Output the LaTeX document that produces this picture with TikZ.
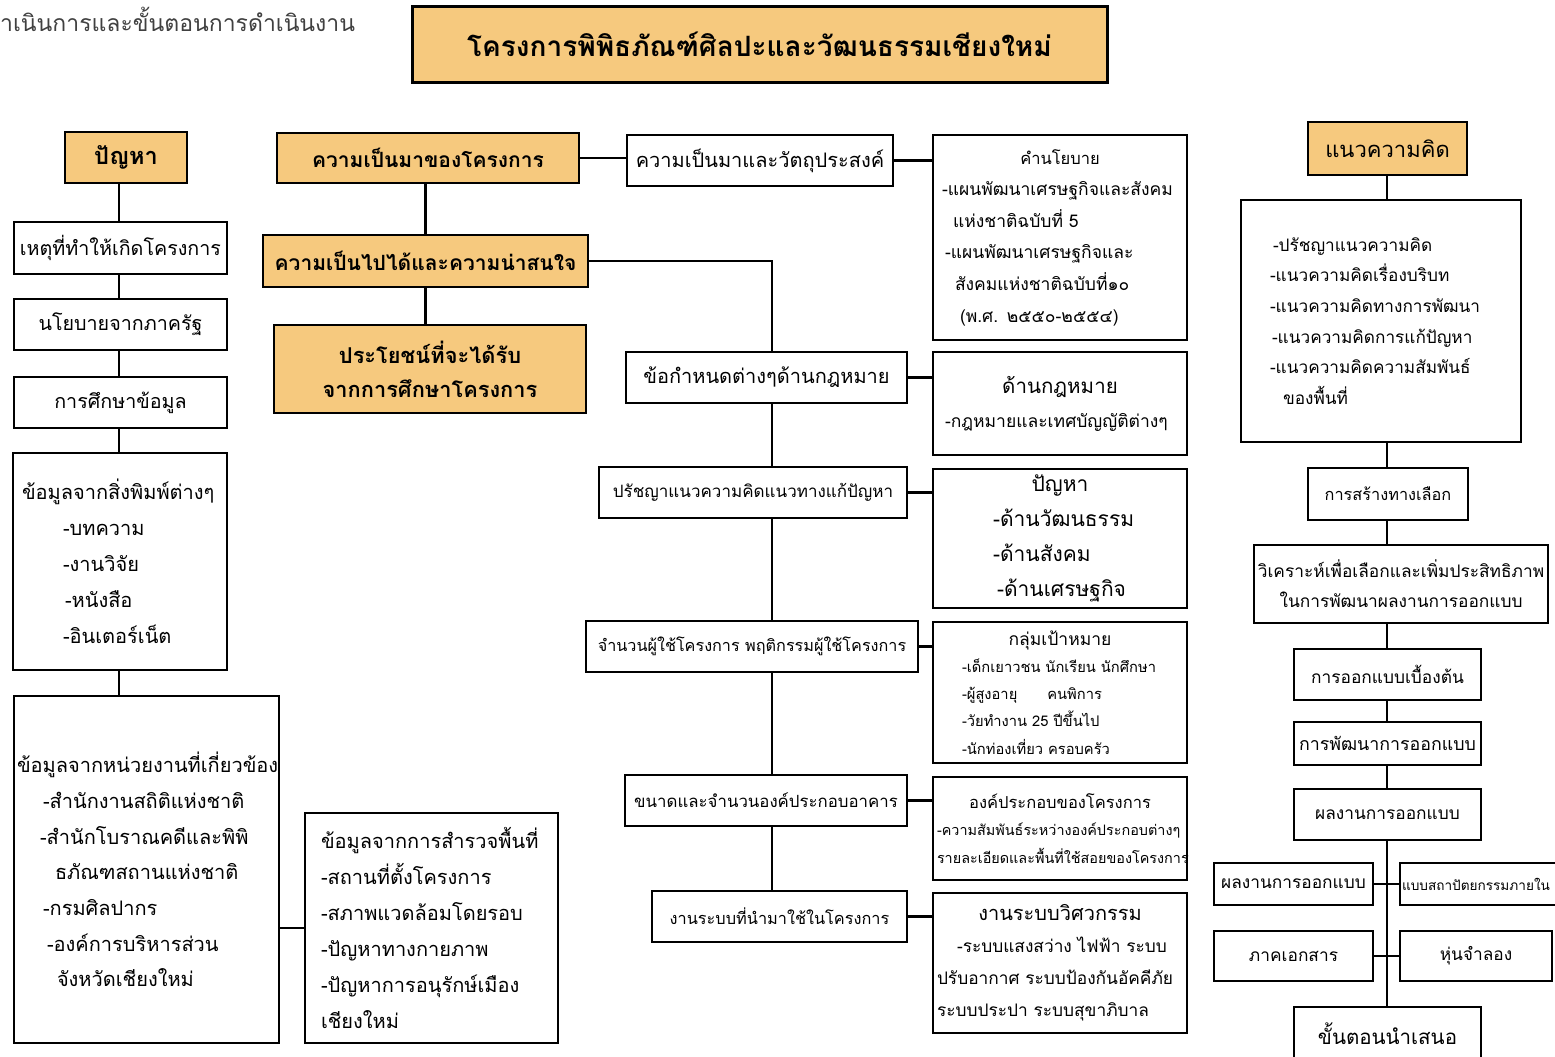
\documentclass[tikz,border=0pt]{standalone}
\usepackage{fontspec}
\setmainfont[Script=Thai]{Loma}
\usepackage{tikz}
\usetikzlibrary{positioning}
\definecolor{boxorange}{RGB}{246,201,126}

\begin{document}
\begin{tikzpicture}[x=1pt, y=-1pt,
    plainbox/.style={draw, line width=1.4pt, fill=white, inner sep=0pt, font=\fontsize{19.7}{24}\selectfont},
    headbox/.style={draw, line width=2.6pt, fill=boxorange, inner sep=0pt, align=center, font=\bfseries\fontsize{21}{34}\selectfont},
    listbox/.style={plainbox, align=left, inner xsep=4pt},
    smallbox/.style={plainbox, font=\fontsize{17.3}{22}\selectfont},
    link/.style={line width=2.4pt}]
        \useasboundingbox (0,0) rectangle (1555,1057);

        % Top - caption and project title
        \node[anchor=west, inner sep=0pt, text=black!75, font=\fontsize{23}{28}\selectfont] (caption) at (0,19) {าเนินการและขั้นตอนการดำเนินงาน};
        \node[headbox, line width=3pt, minimum width=695, minimum height=75, font=\bfseries\fontsize{28}{32}\selectfont] (title) at (759.5,44.5) {โครงการพิพิธภัณฑ์ศิลปะและวัฒนธรรมเชียงใหม่};

        % Left column - problem and data
        \node[headbox, minimum width=122, minimum height=51, font=\bfseries\fontsize{23.5}{26}\selectfont] (prob) at (126,157.5) {ปัญหา};
        \node[plainbox, minimum width=213, minimum height=52] (cause) at (120.5,248) {เหตุที่ทำให้เกิดโครงการ};
        \node[plainbox, minimum width=213, minimum height=51] (policy) at (120.5,324.5) {นโยบายจากภาครัฐ};
        \node[plainbox, minimum width=213, minimum height=51] (study) at (120.5,402.5) {การศึกษาข้อมูล};
        \node[listbox, minimum width=214, minimum height=217, text width=206, font=\fontsize{20}{36}\selectfont] (print) at (120,561.5) {
            \hspace*{5pt}ข้อมูลจากสิ่งพิมพ์ต่างๆ\\
            \hspace*{46pt}-บทความ\\
            \hspace*{46pt}-งานวิจัย\\
            \hspace*{48pt}-หนังสือ\\
            \hspace*{46pt}-อินเตอร์เน็ต};
        \node[listbox, inner xsep=3pt, minimum width=265, minimum height=347, text width=259, font=\fontsize{20}{35.7}\selectfont] (agency) at (146.5,869.5) {
            ข้อมูลจากหน่วยงานที่เกี่ยวข้อง\\
            \hspace*{26pt}-สำนักงานสถิติแห่งชาติ\\
            \hspace*{23pt}-สำนักโบราณคดีและพิพิ\\
            \hspace*{38pt}ธภัณฑสถานแห่งชาติ\\
            \hspace*{26pt}-กรมศิลปากร\\
            \hspace*{30pt}-องค์การบริหารส่วน\\
            \hspace*{40pt}จังหวัดเชียงใหม่};
        \node[listbox, minimum width=253, minimum height=230, text width=245, font=\fontsize{20}{36}\selectfont] (survey) at (431.5,928) {
            \hspace*{12pt}ข้อมูลจากการสำรวจพื้นที่\\
            \hspace*{12pt}-สถานที่ตั้งโครงการ\\
            \hspace*{12pt}-สภาพแวดล้อมโดยรอบ\\
            \hspace*{12pt}-ปัญหาทางกายภาพ\\
            \hspace*{12pt}-ปัญหาการอนุรักษ์เมือง\\
            \hspace*{12pt}เชียงใหม่};

        \coordinate (lspine) at (119,0);
        \draw[link] (lspine |- prob.south) -- (lspine |- cause.north);
        \draw[link] (lspine |- cause.south) -- (lspine |- policy.north);
        \draw[link] (lspine |- policy.south) -- (lspine |- study.north);
        \draw[link] (lspine |- study.south) -- (lspine |- print.north);
        \draw[link] (lspine |- print.south) -- (lspine |- agency.north);
        \draw[link] (survey.west) -- (survey.west -| agency.east);

        % Middle column - background of the project
        \node[headbox, minimum width=302, minimum height=50] (background) at (428,158) {ความเป็นมาของโครงการ};
        \node[headbox, minimum width=325, minimum height=52] (feasible) at (425.5,261) {ความเป็นไปได้และความน่าสนใจ};
        \node[headbox, minimum width=312, minimum height=88, font=\bfseries\fontsize{21.8}{34}\selectfont] (benefit) at (430,369) {ประโยชน์ที่จะได้รับ\\จากการศึกษาโครงการ};
        \draw[link] (feasible.north) -- (feasible.north |- background.south);
        \draw[link] (feasible.south) -- (feasible.south |- benefit.north);

        % Centre column - topics to study
        \node[plainbox, minimum width=266, minimum height=51, font=\fontsize{20}{24}\selectfont] (objective) at (760,160.5) {ความเป็นมาและวัตถุประสงค์};
        \node[plainbox, minimum width=281, minimum height=51, font=\fontsize{20}{24}\selectfont] (law) at (766.5,377.5) {ข้อกำหนดต่างๆด้านกฎหมาย};
        \node[plainbox, minimum width=308, minimum height=51, font=\fontsize{17}{22}\selectfont] (philo) at (753,492.5) {ปรัชญาแนวความคิดแนวทางแก้ปัญหา};
        \node[plainbox, minimum width=332, minimum height=51, font=\fontsize{16.2}{22}\selectfont] (users) at (752,646.5) {จำนวนผู้ใช้โครงการ พฤติกรรมผู้ใช้โครงการ};
        \node[plainbox, minimum width=282, minimum height=51, font=\fontsize{16.8}{22}\selectfont] (size) at (766,800.5) {ขนาดและจำนวนองค์ประกอบอาคาร};
        \node[plainbox, minimum width=255, minimum height=51, font=\fontsize{16.3}{22}\selectfont] (systems) at (779.5,916.5) {งานระบบที่นำมาใช้ในโครงการ};

        \coordinate (trunk) at (772,0);
        \draw[link] (background.east) -- (background.east -| objective.west);
        \draw[link] (feasible.east) -| (trunk |- law.north);
        \draw[link] (trunk |- law.south) -- (trunk |- philo.north);
        \draw[link] (trunk |- philo.south) -- (trunk |- users.north);
        \draw[link] (trunk |- users.south) -- (trunk |- size.north);
        \draw[link] (trunk |- size.south) -- (trunk |- systems.north);

        % Details of each topic
        \node[listbox, minimum width=254, minimum height=205, text width=246, font=\fontsize{17.5}{31.6}\selectfont] (policybox) at (1060,237.5) {
            \hspace*{\fill}{\fontsize{16.5}{31.6}\selectfont คำนโยบาย}\hspace*{\fill}\null\\
            \hspace*{5pt}-แผนพัฒนาเศรษฐกิจและสังคม\\
            \hspace*{16pt}แห่งชาติฉบับที่ 5\\
            \hspace*{8pt}-แผนพัฒนาเศรษฐกิจและ\\
            \hspace*{18pt}สังคมแห่งชาติฉบับที่๑๐\\
            \hspace*{23pt}(พ.ศ. ๒๕๕๐-๒๕๕๔)};
        \node[listbox, minimum width=254, minimum height=103, text width=246, font=\fontsize{17.5}{34}\selectfont] (lawbox) at (1060,403.5) {
            \hspace*{\fill}{\fontsize{20.5}{34}\selectfont ด้านกฎหมาย}\hspace*{\fill}\null\\
            \hspace*{8pt}-กฎหมายและเทศบัญญัติต่างๆ};
        \node[listbox, minimum width=254, minimum height=139, text width=246, font=\fontsize{21}{35}\selectfont] (probbox) at (1060,538.5) {
            \hspace*{\fill}ปัญหา\hspace*{\fill}\null\\
            \hspace*{56pt}-ด้านวัฒนธรรม\\
            \hspace*{56pt}-ด้านสังคม\\
            \hspace*{60pt}-ด้านเศรษฐกิจ};
        \node[listbox, minimum width=254, minimum height=141, text width=246, font=\fontsize{14.7}{27.2}\selectfont] (target) at (1060,692.5) {
            \hspace*{\fill}{\fontsize{17.5}{27}\selectfont กลุ่มเป้าหมาย}\hspace*{\fill}\null\\
            \hspace*{25pt}-เด็กเยาวชน นักเรียน นักศึกษา\\
            \hspace*{25pt}-ผู้สูงอายุ\hspace{30pt}คนพิการ\\
            \hspace*{25pt}-วัยทำงาน 25 ปีขึ้นไป\\
            \hspace*{25pt}-นักท่องเที่ยว ครอบครัว};
        \node[listbox, minimum width=254, minimum height=103, text width=246, font=\fontsize{14.4}{27.5}\selectfont] (parts) at (1060,828.5) {
            \hspace*{\fill}{\fontsize{16.5}{27}\selectfont องค์ประกอบของโครงการ}\hspace*{\fill}\null\\
            \mbox{-ความสัมพันธ์ระหว่างองค์ประกอบต่างๆ}\\
            \mbox{รายละเอียดและพื้นที่ใช้สอยของโครงการ}};
        \node[listbox, minimum width=254, minimum height=140, text width=246, font=\fontsize{17.3}{32}\selectfont] (eng) at (1060,963) {
            \hspace*{\fill}{\fontsize{20}{32}\selectfont งานระบบวิศวกรรม}\hspace*{\fill}\null\\
            \hspace*{20pt}-ระบบแสงสว่าง ไฟฟ้า ระบบ\\
            ปรับอากาศ ระบบป้องกันอัคคีภัย\\
            ระบบประปา ระบบสุขาภิบาล};

        \draw[link] (objective.east) -- (objective.east -| policybox.west);
        \draw[link] (law.east) -- (law.east -| lawbox.west);
        \draw[link] (philo.east) -- (philo.east -| probbox.west);
        \draw[link] (users.east) -- (users.east -| target.west);
        \draw[link] (size.east) -- (size.east -| parts.west);
        \draw[link] (systems.east) -- (systems.east -| eng.west);

        % Right column - design concept and process
        \node[headbox, minimum width=159, minimum height=53, font=\fontsize{22}{28}\selectfont] (concept) at (1387.5,148.5) {แนวความคิด};
        \node[listbox, minimum width=280, minimum height=242, text width=272, font=\fontsize{17.2}{30.6}\selectfont] (clist) at (1381,321) {
            \hspace*{28pt}-ปรัชญาแนวความคิด\\
            \hspace*{25pt}-แนวความคิดเรื่องบริบท\\
            \hspace*{25pt}-แนวความคิดทางการพัฒนา\\
            \hspace*{27pt}-แนวความคิดการแก้ปัญหา\\
            \hspace*{25pt}-แนวความคิดความสัมพันธ์\\
            \hspace*{38pt}ของพื้นที่};
        \node[smallbox, minimum width=160, minimum height=52, font=\fontsize{16.3}{22}\selectfont] (alt) at (1388,494) {การสร้างทางเลือก};
        \node[smallbox, align=center, minimum width=294, minimum height=78, font=\fontsize{17.3}{30}\selectfont] (analyze) at (1401,584) {วิเคราะห์เพื่อเลือกและเพิ่มประสิทธิภาพ\\ในการพัฒนาผลงานการออกแบบ};
        \node[smallbox, minimum width=187, minimum height=51] (prelim) at (1387.5,674.5) {การออกแบบเบื้องต้น};
        \node[smallbox, minimum width=187, minimum height=43, font=\fontsize{17.8}{22}\selectfont] (develop) at (1387.5,743.5) {การพัฒนาการออกแบบ};
        \node[smallbox, minimum width=187, minimum height=51] (result) at (1387.5,814.5) {ผลงานการออกแบบ};
        \node[smallbox, minimum width=159, minimum height=42] (resultL) at (1293.5,884) {ผลงานการออกแบบ};
        \node[listbox, inner xsep=2pt, minimum width=200, minimum height=42, text width=196, font=\fontsize{13.6}{22}\selectfont] (interior) at (1500,884) {แบบสถาปัตยกรรมภายใน};
        \node[smallbox, minimum width=159, minimum height=50] (docs) at (1293.5,956) {ภาคเอกสาร};
        \node[smallbox, minimum width=152, minimum height=50] (model) at (1476,956) {หุ่นจำลอง};
        \node[plainbox, minimum width=187, minimum height=53, font=\fontsize{20.5}{24}\selectfont] (present) at (1387.5,1033.5) {ขั้นตอนนำเสนอ};

        \coordinate (rspine) at (1387,0);
        \draw[link] (rspine |- concept.south) -- (rspine |- clist.north);
        \draw[link] (rspine |- clist.south) -- (rspine |- alt.north);
        \draw[link] (rspine |- alt.south) -- (rspine |- analyze.north);
        \draw[link] (rspine |- analyze.south) -- (rspine |- prelim.north);
        \draw[link] (rspine |- prelim.south) -- (rspine |- develop.north);
        \draw[link] (rspine |- develop.south) -- (rspine |- result.north);
        \draw[link] (rspine |- result.south) -- (rspine |- present.north);
        \draw[link] (resultL.east) -- (interior.west);
        \draw[link] (docs.east) -- (model.west);
    \end{tikzpicture}
\end{document}
